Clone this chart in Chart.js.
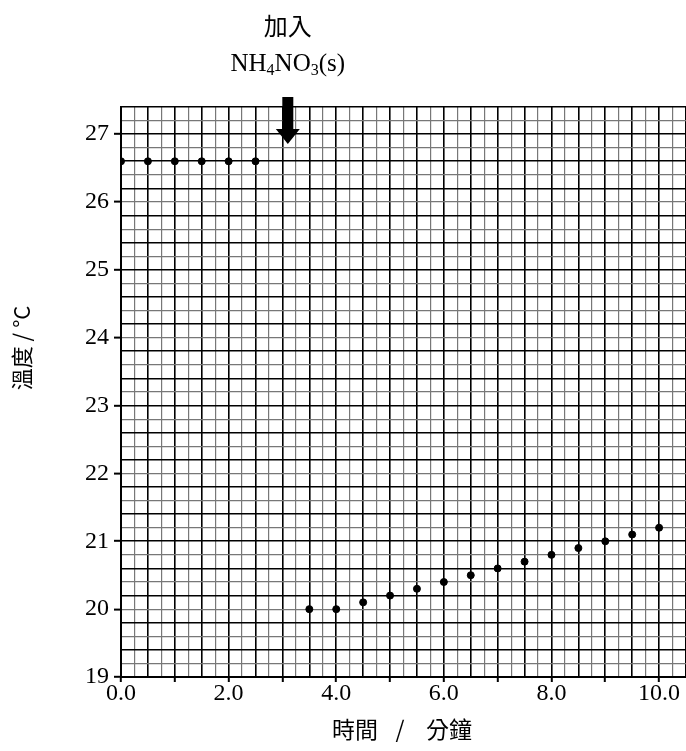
<!DOCTYPE html>
<html>
<head>
<meta charset="utf-8">
<script src="https://cdn.jsdelivr.net/npm/chart.js@4"></script>
<style>
  html, body { margin: 0; padding: 0; background: #fff; overflow: hidden; }
  canvas { display: block; }
</style>
</head>
<body>
<canvas id="chart" width="686" height="751"></canvas>
<script>
// readings before adding the salt
const timesBefore = [0.0, 0.5, 1.0, 1.5, 2.0, 2.5];
const tempsBefore = [26.6, 26.6, 26.6, 26.6, 26.6, 26.6];

// readings after adding the salt
const timesAfter = [3.5, 4.0, 4.5, 5.0, 5.5, 6.0, 6.5, 7.0, 7.5, 8.0, 8.5, 9.0, 9.5, 10.0];
const tempsAfter = [20.0, 20.0, 20.1, 20.2, 20.3, 20.4, 20.5, 20.6, 20.7, 20.8, 20.9, 21.0, 21.1, 21.2];

const xTickLabels = ["0.0", "2.0", "4.0", "6.0", "8.0", "10.0"];
const yTickLabels = ["19", "20", "21", "22", "23", "24", "25", "26", "27"];

const addedAt = 3.1; // where the arrow points (minutes)

const serif = "'Liberation Serif', 'DejaVu Serif', serif";
const cjk = "'Noto Sans CJK TC', 'Noto Sans CJK SC', sans-serif";

let isWhole = (v, step) => Math.abs(v / step - Math.round(v / step)) < 1e-6;

const labelsPlugin = {
    id: "labels",
    afterLayout(chart) {
        // let the grid run to the right edge of the canvas
        const x = chart.scales.x;
        const right = chart.width;
        x.right = right;
        x.width = right - x.left;
        x.configure();
        chart.chartArea.right = right;
        chart.chartArea.width = right - chart.chartArea.left;
    },
    afterDraw(chart) {
        const ctx = chart.ctx;
        const x = chart.scales.x.getPixelForValue(addedAt);
        const top = chart.chartArea.top;
        ctx.save();
        ctx.fillStyle = "#000";
        // arrow
        ctx.fillRect(x - 5.5, top - 10, 11, 33);
        ctx.beginPath();
        ctx.moveTo(x - 12, top + 22);
        ctx.lineTo(x + 12, top + 22);
        ctx.lineTo(x, top + 37);
        ctx.closePath();
        ctx.fill();

        // label above the arrow
        ctx.textBaseline = "alphabetic";
        ctx.textAlign = "center";
        ctx.font = "24px " + cjk;
        ctx.fillText("加入", x, 35);

        const parts = [["NH", 0], ["4", 1], ["NO", 0], ["3", 1], ["(s)", 0]];
        const big = "25px " + serif, small = "16px " + serif;
        let w = 0;
        parts.forEach(p => { ctx.font = p[1] ? small : big; w += ctx.measureText(p[0]).width; });
        let cx = x - w / 2;
        ctx.textAlign = "left";
        parts.forEach(p => {
            ctx.font = p[1] ? small : big;
            ctx.fillText(p[0], cx, p[1] ? 75 : 71);
            cx += ctx.measureText(p[0]).width;
        });

        // x axis title
        ctx.textAlign = "center";
        ctx.textBaseline = "middle";
        ctx.font = "23px " + cjk;
        ctx.fillText("時間", 355, 729);
        ctx.fillText("/", 400, 729);
        ctx.fillText("分鐘", 449, 729);

        // y axis title
        ctx.translate(22, 348);
        ctx.rotate(-Math.PI / 2);
        ctx.font = "22px " + cjk;
        ctx.fillText("溫度 / °C", 0, 0);
        ctx.restore();
    }
};

const ctx = document.getElementById("chart");
new Chart(ctx, {
    type: "scatter",
    data: {
        datasets: [
            {
                label: "before",
                data: timesBefore.map((t, i) => ({x: t, y: tempsBefore[i]})),
                backgroundColor: "#000",
                borderColor: "#000",
                pointRadius: 3.5
            },
            {
                label: "after",
                data: timesAfter.map((t, i) => ({x: t, y: tempsAfter[i]})),
                backgroundColor: "#000",
                borderColor: "#000",
                pointRadius: 3.5
            }
        ]
    },
    options: {
        responsive: false,
        animation: false,
        layout: {padding: {top: 107, left: 0, right: 0, bottom: 0}},
        plugins: {legend: {display: false}, tooltip: {enabled: false}},
        scales: {
            x: {
                type: "linear",
                min: 0,
                max: 10.5,
                afterFit: s => { s.height = 74; },
                border: {color: "#000", width: 2},
                grid: {
                    color: c => (c.index % 2 === 0 ? "#000" : "#777"),
                    lineWidth: c => (c.index % 2 === 0 ? 1.6 : 1.2),
                    tickLength: 5,
                    tickColor: c => (c.tick && isWhole(c.tick.value, 1) ? "#000" : "rgba(0,0,0,0)"),
                    tickWidth: 2
                },
                ticks: {
                    stepSize: 0.25,
                    autoSkip: false,
                    maxRotation: 0,
                    padding: -3,
                    color: "#000",
                    font: {family: serif, size: 24},
                    callback: v => (isWhole(v, 2) ? xTickLabels[Math.round(v / 2)] : "")
                }
            },
            y: {
                type: "linear",
                min: 19,
                max: 27.4,
                afterFit: s => { s.width = 121; },
                border: {color: "#000", width: 2},
                grid: {
                    color: c => (c.index % 2 === 0 ? "#000" : "#777"),
                    lineWidth: c => (c.index % 2 === 0 ? 1.6 : 1.2),
                    tickLength: 7,
                    tickColor: c => (c.tick && isWhole(c.tick.value, 1) ? "#000" : "rgba(0,0,0,0)"),
                    tickWidth: 2
                },
                ticks: {
                    stepSize: 0.2,
                    autoSkip: false,
                    padding: 5,
                    color: "#000",
                    font: {family: serif, size: 24},
                    callback: v => (isWhole(v, 1) ? yTickLabels[Math.round(v) - 19] : "")
                }
            }
        }
    },
    plugins: [labelsPlugin]
});
</script>
</body>
</html>
